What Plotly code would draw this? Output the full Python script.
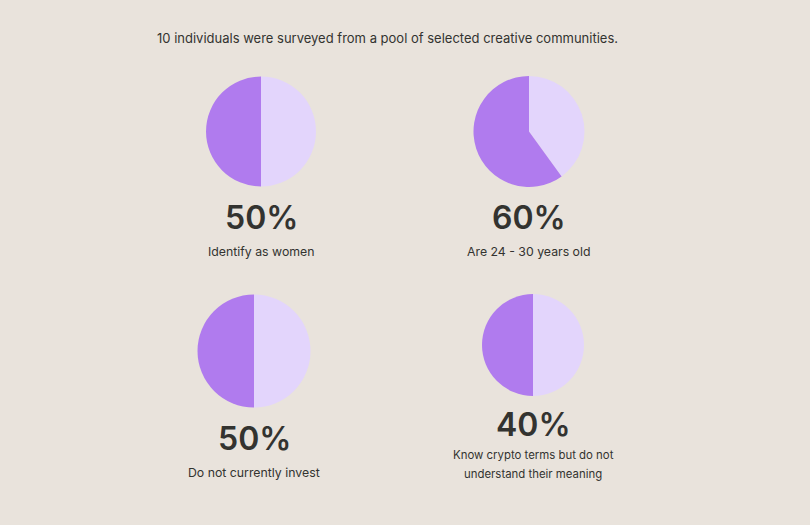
import plotly.graph_objects as go

W, H = 810, 525

# survey results: rest vs share answering "yes"
labels = ['Other', 'Yes']
pie_values = [[50, 50], [40, 60], [50, 50], [50, 50]]
big_labels = ['50%', '60%', '50%', '40%']
captions = ['Identify as women', 'Are 24 - 30 years old',
            'Do not currently invest',
            'Know crypto terms but do not<br>understand their meaning']
title = '10 individuals were surveyed from a pool of selected creative communities.'

DARK, LIGHT, BG, INK = '#B07BEE', '#E3D5FC', '#E9E3DC', '#333330'

# pixel layout: pie centre x, centre y, radius, big number y, caption y
layout_px = [(261, 131.5, 55, 217, 251),
             (529, 131.5, 55.5, 217, 251),
             (254, 351, 56.5, 438, 472),
             (533, 345, 51, 424, 455)]

fig = go.Figure()
for vals, (cx, cy, r, ny, cy2), big, cap in zip(pie_values, layout_px, big_labels, captions):
    fig.add_trace(go.Pie(
        labels=labels, values=vals, sort=False, direction='clockwise',
        rotation=0, textinfo='none', hoverinfo='label+percent',
        marker=dict(colors=[LIGHT, DARK], line=dict(width=0)),
        domain=dict(x=[(cx - r) / W, (cx + r) / W],
                    y=[1 - (cy + r) / H, 1 - (cy - r) / H]),
        showlegend=False))
    fig.add_annotation(x=cx / W, y=1 - ny / H, xref='paper', yref='paper',
                       text=big, showarrow=False, xanchor='center', yanchor='middle',
                       font=dict(family='Inter', size=32, color=INK, weight=600))
    lines = cap.split('<br>')
    for i, line in enumerate(lines):
        fig.add_annotation(x=cx / W, y=1 - (cy2 + 19 * i) / H, xref='paper', yref='paper',
                           text=line, showarrow=False, xanchor='center', yanchor='middle',
                           font=dict(family='Inter', size=11.4 if len(lines) > 1 else 12.3,
                                     color=INK))

fig.add_annotation(x=155 / W, y=1 - 38 / H, xref='paper', yref='paper', text=title,
                   showarrow=False, xanchor='left', yanchor='middle',
                   font=dict(family='Inter', size=13, color=INK))

fig.update_layout(width=W, height=H, autosize=False,
                  margin=dict(l=0, r=0, t=0, b=0),
                  paper_bgcolor=BG, plot_bgcolor=BG)
fig.write_html('out.html', config=dict(displayModeBar=False),
               post_script="document.body.style.margin='0';"
                           "document.body.style.background='%s';" % BG)
